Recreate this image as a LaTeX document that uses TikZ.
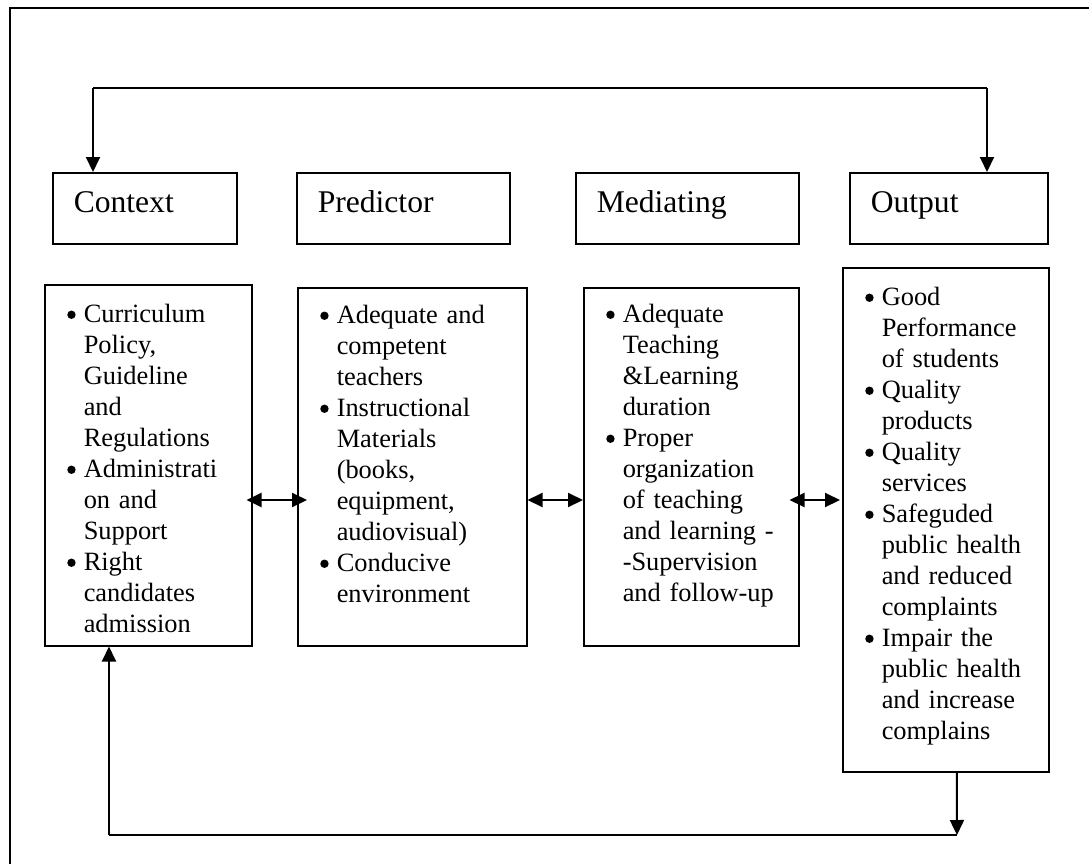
\documentclass[tikz,border=0pt]{standalone}
\usepackage{fontspec}
\setmainfont{Liberation Serif}
\usetikzlibrary{arrows.meta,positioning}

\newcommand{\bul}{\makebox[18pt][l]{\hspace{1.5pt}\raisebox{3.8pt}{\tikz\fill (0pt,0pt) circle[radius=4.2pt];}}}
\newcommand{\ind}{\hspace*{18pt}}

\begin{document}
\begin{tikzpicture}[
    x=1pt, y=-1pt,
    bloco/.style={draw, line width=1.5pt, align=left, inner xsep=21pt, inner ysep=0pt, minimum height=71pt, text height=21.6pt, text depth=14pt, font=\fontsize{31.6pt}{36pt}\selectfont},
    lista/.style={draw, line width=1.5pt, anchor=north west, align=left, inner xsep=21pt, inner ysep=0pt, font=\fontsize{26.4pt}{31pt}\selectfont},
    seta/.style={-{Triangle[length=15pt, width=14pt]}, line width=2pt},
    dupla/.style={{Triangle[length=15pt, width=14pt]}-{Triangle[length=15pt, width=14pt]}, line width=2pt},
    retorno/.style={line width=1.2pt}
  ]
  \useasboundingbox (0,0) rectangle (1089,864);
  \draw[line width=1.6pt] (10,864) -- (10,8) -- (1089,8);

  % cabecalhos
  \node[bloco, text width=142pt, anchor=north west] (ctx) at (52,172) {Context};
  \node[bloco, text width=171pt, right=58.5pt of ctx] (pred) {Predictor};
  \node[bloco, text width=181pt, right=64.5pt of pred] (med) {Mediating};
  \node[bloco, text width=156pt, right=49.5pt of med] (out) {Output};

  % listas
  \node[lista, text width=165pt, text height=38pt, text depth=323pt] (ctxlista) at (44,284)
    {\bul Curriculum\\ \ind Policy,\\ \ind Guideline\\ \ind and\\ \ind Regulations\\
     \bul Administrati\\ \ind on and\\ \ind Support\\
     \bul Right\\ \ind candidates\\ \ind admission};
  \node[lista, text width=187pt, text height=36pt, text depth=322pt] (predlista) at (297,287)
    {\bul Adequate and\\ \ind competent\\ \ind teachers\\
     \bul Instructional\\ \ind Materials\\ \ind (books,\\ \ind equipment,\\ \ind audiovisual)\\
     \bul Conducive\\ \ind environment};
  \node[lista, text width=173pt, text height=35pt, text depth=323pt] (medlista) at (583,287)
    {\bul Adequate\\ \ind Teaching\\ \ind \&Learning\\ \ind duration\\
     \bul Proper\\ \ind organization\\ \ind of teaching\\ \ind and learning -\\ \ind -Supervision\\ \ind and follow-up};
  \node[lista, text width=164pt, text height=38pt, text depth=466pt] (outlista) at (842,267)
    {\bul Good\\ \ind Performance\\ \ind of students\\
     \bul Quality\\ \ind products\\
     \bul Quality\\ \ind services\\
     \bul Safeguded\\ \ind public health\\ \ind and reduced\\ \ind complaints\\
     \bul Impair the\\ \ind public health\\ \ind and increase\\ \ind complains};

  % retorno superior
  \coordinate (topoE) at (93,88);
  \coordinate (topoD) at (987,88);
  \draw[retorno] (topoE) -- (topoD);
  \draw[seta] (topoE) -- (topoE |- ctx.north);
  \draw[seta] (topoD) -- (topoD |- out.north);

  % setas entre listas
  \coordinate (meio) at (0,500);
  \draw[dupla, shorten <=-6pt, shorten >=-10pt] (ctxlista.east |- meio) -- (predlista.west |- meio);
  \draw[dupla] (predlista.east |- meio) -- (medlista.west |- meio);
  \draw[dupla, shorten <=-10pt, shorten >=2pt] (medlista.east |- meio) -- (outlista.west |- meio);

  % retorno inferior
  \coordinate (baseE) at (109,835);
  \coordinate (baseD) at (957,835);
  \draw[seta] ([xshift=11pt]outlista.south) -- (baseD);
  \draw[retorno] (baseD) -- (baseE);
  \draw[seta] (baseE) -- (baseE |- ctxlista.south);
\end{tikzpicture}
\end{document}
